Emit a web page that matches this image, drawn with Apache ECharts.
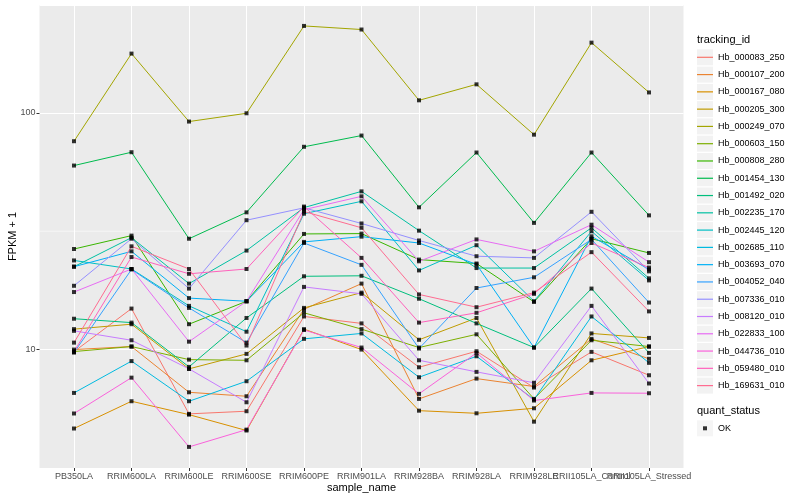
<!DOCTYPE html>
<html>
<head>
<meta charset="utf-8">
<script src="https://cdn.jsdelivr.net/npm/echarts@6/dist/echarts.min.js"></script>
<style>html,body{margin:0;padding:0;background:#fff}#c{width:800px;height:500px}</style>
</head>
<body>
<div id="c"></div>
<script>
const categories = ['PB350LA','RRIM600LA','RRIM600LE','RRIM600SE','RRIM600PE','RRIM901LA','RRIM928BA','RRIM928LA','RRIM928LE','RRII105LA_Control','RRII105LA_Stressed'];
const trackingIds = ['Hb_000083_250','Hb_000107_200','Hb_000167_080','Hb_000205_300','Hb_000249_070','Hb_000603_150','Hb_000808_280','Hb_001454_130','Hb_001492_020','Hb_002235_170','Hb_002445_120','Hb_002685_110','Hb_003693_070','Hb_004052_040','Hb_007336_010','Hb_008120_010','Hb_022833_100','Hb_044736_010','Hb_059480_010','Hb_169631_010'];
const colors = ['#F8766D','#EA8331','#D89000','#C09B00','#A3A500','#7CAE00','#39B600','#00BB4E','#00BF7D','#00C1A3','#00BFC4','#00BAE0','#00B0F6','#35A2FF','#9590FF','#C77CFF','#E76BF3','#FA62DB','#FF62BC','#FF6C91'];

// FPKM + 1 per sample, in the order of `categories`
const Hb_000083_250 = [9.8, 14.9, 5.35, 5.49, 13.8, 12.9, 8.42, 9.84, 6.91, 9.78, 7.79];
const Hb_000107_200 = [10.0, 10.3, 6.60, 6.35, 14.8, 19.0, 6.19, 7.54, 6.98, 11.1, 9.14];
const Hb_000167_080 = [4.64, 6.05, 5.31, 4.55, 12.2, 10.0, 5.52, 5.38, 5.65, 9.01, 10.3];
const Hb_000205_300 = [12.2, 12.8, 8.29, 9.59, 15.0, 17.4, 11.0, 13.6, 4.96, 11.7, 11.2];
const Hb_000249_070 = [75.9, 178, 91.9, 99.6, 233, 225, 113, 132, 80.9, 198, 122];
const Hb_000603_150 = [9.81, 10.3, 9.07, 9.01, 14.3, 12.2, 10.2, 11.6, 6.19, 10.95, 10.3];
const Hb_000808_280 = [26.6, 30.3, 12.8, 16.0, 30.8, 30.9, 24.0, 23.1, 15.9, 29.4, 25.6];
const Hb_001454_130 = [59.9, 68.2, 29.4, 38.0, 71.9, 80.2, 39.9, 68.0, 34.3, 68.0, 36.9];
const Hb_001492_020 = [13.5, 13.0, 8.45, 13.6, 20.4, 20.5, 16.4, 12.9, 10.2, 18.1, 9.68];
const Hb_002235_170 = [22.4, 29.7, 19.0, 26.2, 39.8, 46.6, 31.8, 22.1, 22.1, 32.7, 20.0];
const Hb_002445_120 = [23.8, 21.9, 15.3, 11.9, 37.5, 42.3, 21.6, 27.6, 16.0, 31.6, 19.6];
const Hb_002685_110 = [6.56, 8.94, 6.05, 7.35, 11.1, 11.7, 7.64, 9.37, 6.15, 13.8, 8.79];
const Hb_003693_070 = [22.4, 26.0, 16.5, 16.0, 28.5, 30.0, 28.2, 22.9, 10.2, 30.1, 21.8];
const Hb_004052_040 = [9.71, 21.8, 15.0, 10.7, 28.2, 22.8, 10.1, 18.2, 20.2, 29.2, 15.8];
const Hb_007336_010 = [18.6, 29.4, 18.1, 35.2, 39.7, 34.1, 28.9, 24.8, 24.4, 38.2, 21.4];
const Hb_008120_010 = [12.0, 10.95, 8.29, 5.99, 18.4, 17.2, 9.01, 8.05, 7.24, 15.3, 7.19];
const Hb_022833_100 = [17.5, 21.9, 10.8, 16.0, 39.0, 44.4, 23.6, 29.2, 26.0, 33.7, 23.4];
const Hb_044736_010 = [5.37, 7.61, 3.88, 4.59, 12.1, 10.2, 6.50, 9.68, 6.09, 6.56, 6.54];
const Hb_059480_010 = [9.81, 24.6, 20.9, 21.9, 40.2, 24.4, 13.0, 14.3, 17.2, 28.2, 22.2];
const Hb_169631_010 = [10.7, 27.3, 21.9, 10.4, 38.3, 32.7, 17.1, 15.1, 17.4, 25.8, 14.5];

const yTicks = [10, 100];
const yMinorBreaks = [31.62];
const quantStatus = ['OK'];

const seriesValues = [Hb_000083_250, Hb_000107_200, Hb_000167_080, Hb_000205_300, Hb_000249_070, Hb_000603_150, Hb_000808_280, Hb_001454_130, Hb_001492_020, Hb_002235_170, Hb_002445_120, Hb_002685_110, Hb_003693_070, Hb_004052_040, Hb_007336_010, Hb_008120_010, Hb_022833_100, Hb_044736_010, Hb_059480_010, Hb_169631_010];

const FONT = '"Liberation Sans", Arial, Helvetica, sans-serif';
const X_MIN = -0.6, X_MAX = categories.length - 1 + 0.6;
const catIdx = categories.map((c, i) => i);

const lineSeries = trackingIds.map((id, i) => ({
  name: id,
  type: 'line',
  data: seriesValues[i].map((v, j) => [j, v]),
  showSymbol: false,
  symbol: 'none',
  lineStyle: { color: colors[i], width: 1 },
  itemStyle: { color: colors[i] },
  z: 2,
  silent: true
}));

const pointData = [];
seriesValues.forEach(vals => vals.forEach((v, j) => pointData.push([j, v])));

// minor (half-decade) grid line, drawn below the data lines
const minorSeries = yMinorBreaks.map((b, k) => ({
  name: '_minor' + k, type: 'line', z: 1, silent: true,
  data: [[X_MIN, b], [X_MAX, b]],
  showSymbol: false, symbol: 'none',
  lineStyle: { color: '#FFFFFF', width: 0.55 }
}));

const pointSeries = {
  name: quantStatus[0], type: 'scatter', data: pointData,
  symbol: 'rect', symbolSize: 4,
  itemStyle: { color: '#000000' }, z: 3, silent: true
};

const legendCommon = {
  orient: 'vertical', left: 697, top: 49.3, itemWidth: 16, itemHeight: 16,
  itemGap: 1.28, padding: 0, selectedMode: false
};

const chart = echarts.init(document.getElementById('c'), null, { renderer: 'canvas' });
chart.setOption({
  animation: false,
  backgroundColor: '#FFFFFF',
  title: [
    { text: 'tracking_id', left: 697, top: 34, padding: 0,
      textStyle: { fontSize: 11, fontWeight: 'normal', color: '#000', fontFamily: FONT } },
    { text: 'quant_status', left: 697, top: 405.5, padding: 0,
      textStyle: { fontSize: 11, fontWeight: 'normal', color: '#000', fontFamily: FONT } }
  ],
  grid: {
    left: 39.5, right: 116.5, top: 5, bottom: 32, containLabel: false,
    outerBoundsMode: 'none',
    show: true, backgroundColor: '#EBEBEB', borderWidth: 0
  },
  xAxis: {
    type: 'value', min: X_MIN, max: X_MAX,
    name: 'sample_name', nameLocation: 'middle', nameGap: 14, nameMoveOverlap: false,
    nameTextStyle: { fontSize: 11, color: '#000', fontFamily: FONT },
    axisLine: { show: false, onZero: false },
    axisTick: { show: true, length: 3, customValues: catIdx, lineStyle: { color: '#333333', width: 1 } },
    axisLabel: {
      customValues: catIdx.concat([X_MAX]),
      formatter: v => (Number.isInteger(v) ? categories[v] : ''),
      fontSize: 9, color: '#4D4D4D', margin: 4, fontFamily: FONT,
      hideOverlap: false, showMinLabel: true, showMaxLabel: false
    },
    splitLine: { show: true, lineStyle: { color: '#FFFFFF', width: 1.07 } }
  },
  yAxis: {
    type: 'log', logBase: 10, min: 3.16, max: 285.6,
    name: 'FPKM + 1', nameLocation: 'middle', nameGap: 21, nameMoveOverlap: false,
    nameTextStyle: { fontSize: 11, color: '#000', fontFamily: FONT },
    axisLine: { show: false, onZero: false },
    axisTick: { show: true, length: 3, lineStyle: { color: '#333333', width: 1 } },
    axisLabel: { fontSize: 9, color: '#4D4D4D', margin: 4, fontFamily: FONT, showMinLabel: false, showMaxLabel: false,
      formatter: v => (yTicks.indexOf(Math.round(v)) >= 0 ? String(Math.round(v)) : '') },
    splitLine: { show: true, lineStyle: { color: '#FFFFFF', width: 1.07 } },
    minorSplitLine: { show: false }
  },
  legend: [
    Object.assign({}, legendCommon, {
      data: trackingIds, icon: 'rect',
      itemStyle: { color: '#F2F2F2', borderWidth: 0 },
      textStyle: { fontSize: 9, color: '#000', fontFamily: FONT, lineHeight: 16 }
    }),
    Object.assign({}, legendCommon, {
      data: trackingIds.map((n, i) => ({ name: n, itemStyle: { color: colors[i], borderWidth: 0 } })),
      icon: 'path://M0,0h16v1.2h-16z',
      textStyle: { fontSize: 9, color: 'rgba(0,0,0,0)', fontFamily: FONT, lineHeight: 16 }
    }),
    Object.assign({}, legendCommon, {
      top: 420.3, data: quantStatus, icon: 'rect',
      itemStyle: { color: '#F2F2F2', borderWidth: 0 },
      textStyle: { fontSize: 9, color: '#000', fontFamily: FONT, lineHeight: 16 }
    }),
    Object.assign({}, legendCommon, {
      left: 703, top: 426.3, itemWidth: 4, itemHeight: 4,
      data: quantStatus.map(n => ({ name: n, itemStyle: { color: '#000', borderWidth: 0 } })),
      icon: 'rect',
      textStyle: { fontSize: 4, color: 'rgba(0,0,0,0)', fontFamily: FONT, lineHeight: 4 }
    })
  ],
  series: minorSeries.concat(lineSeries, [pointSeries])
});
</script>
</body>
</html>
